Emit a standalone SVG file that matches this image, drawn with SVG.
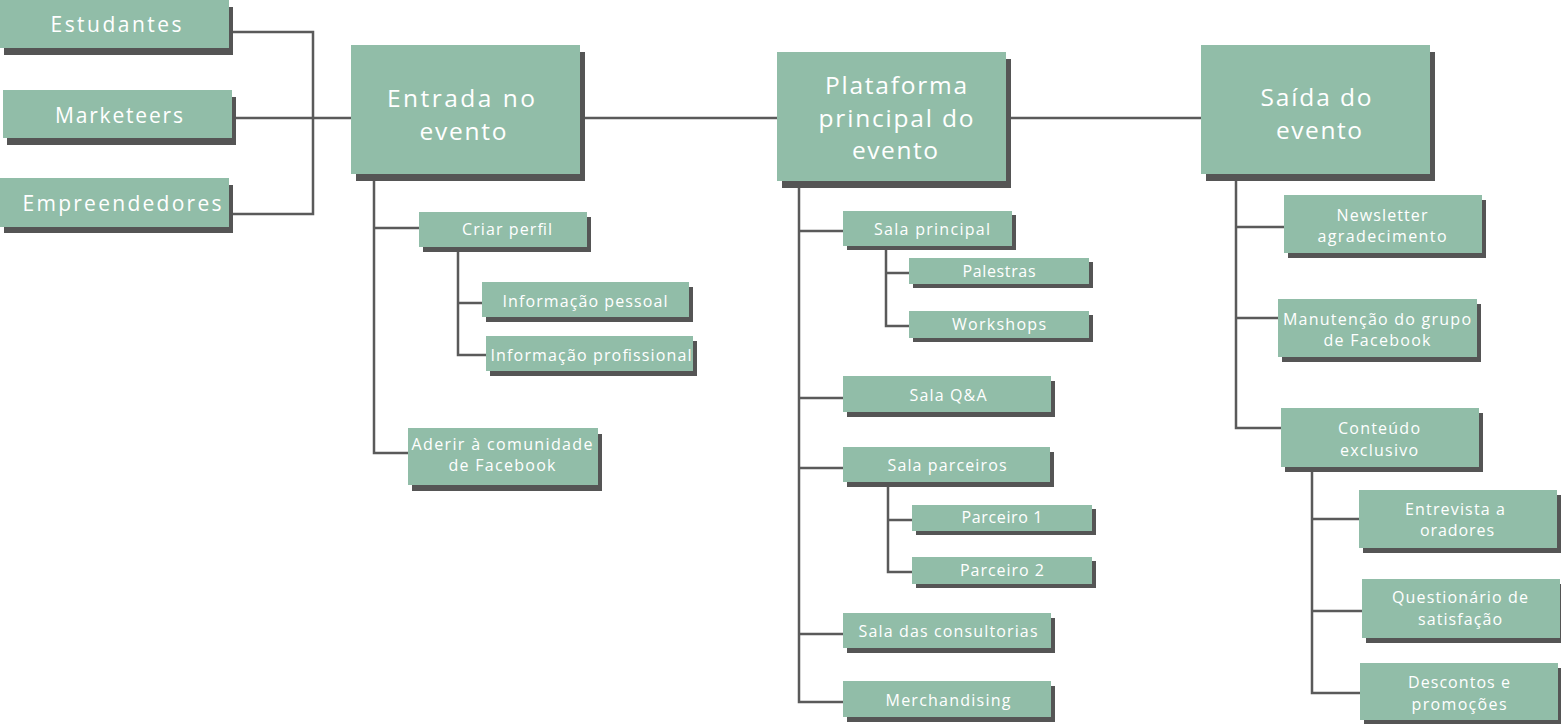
<svg xmlns="http://www.w3.org/2000/svg" width="1561" height="724" viewBox="0 0 1561 724">
<style>
.b{fill:#91bda8}
.s{fill:#555555}
.c{fill:none;stroke:#5a5a5a;stroke-width:2.5}
text{fill:#ffffff;font-family:"Open Sans","Liberation Sans",sans-serif;text-anchor:middle}
.L{font-size:21px}
.B{font-size:24.5px}
.S{font-size:16px}
</style>
<rect width="1561" height="724" fill="#ffffff"/>
<g id="connectors">
<path class="c" d="M229,32 H313 V214 H229"/>
<path class="c" d="M232,118 H351"/>
<path class="c" d="M580,118 H777"/>
<path class="c" d="M1006,118 H1201"/>
<path class="c" d="M374,181 V453 H408 M374,228 H419"/>
<path class="c" d="M458,251 V355 H486 M458,303 H482"/>
<path class="c" d="M799,188 V702 H843 M799,231 H843 M799,398 H843 M799,468 H843 M799,634 H843"/>
<path class="c" d="M886,249 V326 H909 M886,273 H909"/>
<path class="c" d="M888,487 V572 H912 M888,520 H912"/>
<path class="c" d="M1236,181 V428 H1281 M1236,227 H1284 M1236,318 H1278"/>
<path class="c" d="M1312,472 V693 H1360 M1312,519 H1359 M1312,611 H1362"/>
</g>
<g id="estudantes"><rect class="s" x="4" y="7" width="229" height="48"/><rect class="b" x="0" y="0" width="229" height="48"/><text class="L" x="116" y="32" textLength="131" lengthAdjust="spacing">Estudantes</text></g>
<g id="marketeers"><rect class="s" x="7" y="97" width="229" height="48"/><rect class="b" x="3" y="90" width="229" height="48"/><text class="L" x="119" y="123" textLength="128" lengthAdjust="spacing">Marketeers</text></g>
<g id="empreendedores"><rect class="s" x="4" y="185" width="229" height="48"/><rect class="b" x="0" y="178" width="229" height="49"/><text class="L" x="122" y="211" textLength="199" lengthAdjust="spacing">Empreendedores</text></g>
<g id="entrada"><rect class="s" x="356" y="52" width="229" height="129"/><rect class="b" x="351" y="45" width="229" height="129"/><text class="B" x="461" y="107" textLength="148" lengthAdjust="spacing">Entrada no</text><text class="B" x="463" y="140" textLength="87" lengthAdjust="spacing">evento</text></g>
<g id="plataforma"><rect class="s" x="782" y="59" width="229" height="129"/><rect class="b" x="777" y="52" width="229" height="129"/><text class="B" x="896" y="94" textLength="142" lengthAdjust="spacing">Plataforma</text><text class="B" x="896" y="127" textLength="155" lengthAdjust="spacing">principal do</text><text class="B" x="895" y="159" textLength="86" lengthAdjust="spacing">evento</text></g>
<g id="saida"><rect class="s" x="1206" y="52" width="229" height="129"/><rect class="b" x="1201" y="45" width="229" height="129"/><text class="B" x="1316" y="106" textLength="111" lengthAdjust="spacing">Saída do</text><text class="B" x="1319" y="139" textLength="86" lengthAdjust="spacing">evento</text></g>
<g id="criar-perfil"><rect class="s" x="423" y="217" width="168" height="35"/><rect class="b" x="419" y="212" width="168" height="35"/><text class="S" x="507" y="235" textLength="90" lengthAdjust="spacing">Criar perfil</text></g>
<g id="info-pessoal"><rect class="s" x="486" y="287" width="207" height="35"/><rect class="b" x="482" y="282" width="207" height="35"/><text class="S" x="585" y="307" textLength="165" lengthAdjust="spacing">Informação pessoal</text></g>
<g id="info-profissional"><rect class="s" x="490" y="341" width="207" height="35"/><rect class="b" x="486" y="336" width="207" height="35"/><text class="S" x="591" y="361" textLength="201" lengthAdjust="spacing">Informação profissional</text></g>
<g id="aderir"><rect class="s" x="412" y="434" width="190" height="57"/><rect class="b" x="408" y="428" width="190" height="57"/><text class="S" x="502" y="450" textLength="181" lengthAdjust="spacing">Aderir à comunidade</text><text class="S" x="502" y="471" textLength="107" lengthAdjust="spacing">de Facebook</text></g>
<g id="sala-principal"><rect class="s" x="847" y="215" width="169" height="35"/><rect class="b" x="843" y="211" width="169" height="35"/><text class="S" x="932" y="235" textLength="116" lengthAdjust="spacing">Sala principal</text></g>
<g id="palestras"><rect class="s" x="913" y="262" width="180" height="26"/><rect class="b" x="909" y="258" width="180" height="26"/><text class="S" x="999" y="277" textLength="73" lengthAdjust="spacing">Palestras</text></g>
<g id="workshops"><rect class="s" x="913" y="315" width="180" height="27"/><rect class="b" x="909" y="311" width="180" height="27"/><text class="S" x="999" y="330" textLength="94" lengthAdjust="spacing">Workshops</text></g>
<g id="sala-qa"><rect class="s" x="847" y="381" width="208" height="36"/><rect class="b" x="843" y="376" width="208" height="36"/><text class="S" x="948" y="401" textLength="77" lengthAdjust="spacing">Sala Q&amp;A</text></g>
<g id="sala-parceiros"><rect class="s" x="847" y="452" width="207" height="35"/><rect class="b" x="843" y="447" width="207" height="35"/><text class="S" x="947" y="471" textLength="119" lengthAdjust="spacing">Sala parceiros</text></g>
<g id="parceiro-1"><rect class="s" x="916" y="509" width="180" height="26"/><rect class="b" x="912" y="505" width="180" height="26"/><text class="S" x="1002" y="523" textLength="81" lengthAdjust="spacing">Parceiro 1</text></g>
<g id="parceiro-2"><rect class="s" x="916" y="561" width="180" height="27"/><rect class="b" x="912" y="557" width="180" height="27"/><text class="S" x="1002" y="576" textLength="84" lengthAdjust="spacing">Parceiro 2</text></g>
<g id="sala-consultorias"><rect class="s" x="847" y="618" width="208" height="35"/><rect class="b" x="843" y="613" width="208" height="35"/><text class="S" x="948" y="637" textLength="179" lengthAdjust="spacing">Sala das consultorias</text></g>
<g id="merchandising"><rect class="s" x="847" y="686" width="208" height="36"/><rect class="b" x="843" y="681" width="208" height="36"/><text class="S" x="948" y="706" textLength="125" lengthAdjust="spacing">Merchandising</text></g>
<g id="newsletter"><rect class="s" x="1288" y="200" width="198" height="58"/><rect class="b" x="1284" y="195" width="198" height="58"/><text class="S" x="1382" y="221" textLength="91" lengthAdjust="spacing">Newsletter</text><text class="S" x="1382" y="242" textLength="129" lengthAdjust="spacing">agradecimento</text></g>
<g id="manutencao"><rect class="s" x="1282" y="304" width="199" height="58"/><rect class="b" x="1278" y="299" width="199" height="58"/><text class="S" x="1377" y="325" textLength="188" lengthAdjust="spacing">Manutenção do grupo</text><text class="S" x="1377" y="346" textLength="107" lengthAdjust="spacing">de Facebook</text></g>
<g id="conteudo"><rect class="s" x="1285" y="413" width="198" height="59"/><rect class="b" x="1281" y="408" width="198" height="59"/><text class="S" x="1379" y="434" textLength="82" lengthAdjust="spacing">Conteúdo</text><text class="S" x="1379" y="456" textLength="78" lengthAdjust="spacing">exclusivo</text></g>
<g id="entrevista"><rect class="s" x="1363" y="495" width="198" height="58"/><rect class="b" x="1359" y="490" width="198" height="58"/><text class="S" x="1455" y="515" textLength="100" lengthAdjust="spacing">Entrevista a</text><text class="S" x="1457" y="536" textLength="74" lengthAdjust="spacing">oradores</text></g>
<g id="questionario"><rect class="s" x="1366" y="584" width="198" height="59"/><rect class="b" x="1362" y="579" width="198" height="59"/><text class="S" x="1460" y="603" textLength="136" lengthAdjust="spacing">Questionário de</text><text class="S" x="1460" y="625" textLength="84" lengthAdjust="spacing">satisfação</text></g>
<g id="descontos"><rect class="s" x="1364" y="668" width="198" height="57"/><rect class="b" x="1360" y="663" width="198" height="57"/><text class="S" x="1459" y="688" textLength="102" lengthAdjust="spacing">Descontos e</text><text class="S" x="1459" y="710" textLength="95" lengthAdjust="spacing">promoções</text></g>
</svg>
